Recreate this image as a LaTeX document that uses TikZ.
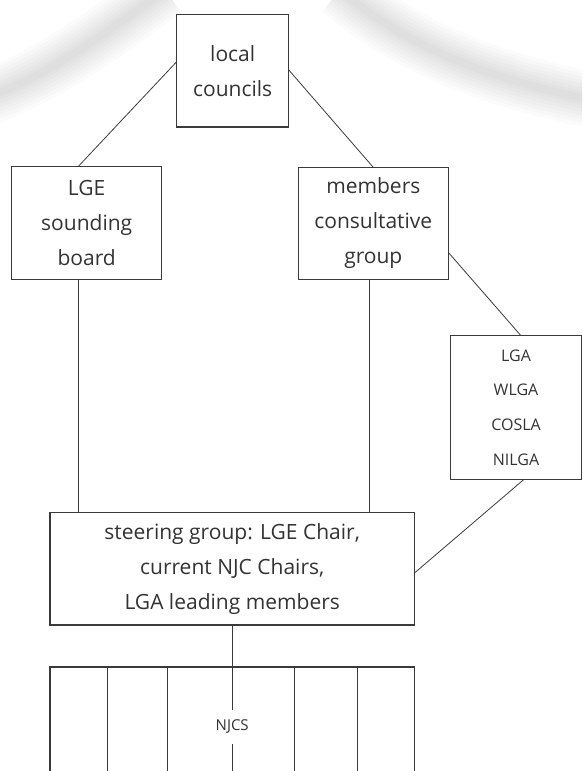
\documentclass[tikz,border=0pt]{standalone}
\usepackage{fontspec}
\setmainfont{Open Sans}
\usepackage{tikz}
\usetikzlibrary{positioning}
\definecolor{ink}{HTML}{333333}
\definecolor{rule}{HTML}{3A3A3A}

\begin{document}
\begin{tikzpicture}[x=1pt,y=-1pt,node distance=40pt,
        box/.style={draw=rule,line width=1.2pt,text=ink,align=center,inner sep=0pt,outer sep=0pt,font=\fontsize{21}{35}\selectfont},
        smallbox/.style={box,font=\fontsize{16}{34.7}\selectfont},
        link/.style={draw=rule,line width=0.8pt},
        haze/.style={line width=#1,black,opacity=0.014}]
        \useasboundingbox (0,0) rectangle (582,771);
        \begin{scope}
            \clip (0,0) rectangle (582,771);
            \foreach \w in {56,49,42,35,28,21,14,8}{
                \draw[haze=\w pt] (165,-10) .. controls (110,30) and (50,75) .. (-10,96);
                \draw[haze=\w pt] (340,-10) .. controls (400,40) and (470,75) .. (592,100);
            }
        \end{scope}

        \node[box,minimum width=112pt,minimum height=112.3pt] (local) at (232.7,70.9) {local\\councils};
        \node[box,minimum width=150pt,minimum height=112.6pt] (lge) [below left=39.7pt and 15pt of local] {LGE\\sounding\\board};
        \node[box,minimum width=150pt,minimum height=112pt] (members) [below right=40.3pt and 9.6pt of local] {members\\consultative\\group};
        \node[smallbox,minimum width=130.6pt,minimum height=143.6pt] (lga) [below right=56.4pt and 2.4pt of members] {LGA\\WLGA\\COSLA\\NILGA};
        \node[box,minimum width=364.5pt,minimum height=112.3pt] (steering) at (232.2,568.8) {steering group: LGE Chair,\\current NJC Chairs,\\LGA leading members};
        \node[box,minimum width=364.5pt,minimum height=120pt] (njcs) [below=42pt of steering] {};

        \path[link] ([yshift=9.2pt]local.west) edge ([xshift=-8.7pt]lge.north)
                    ([yshift=1pt]local.east) edge (members.north)
                    ([xshift=-8.7pt]lge.south) edge ([xshift=-8.7pt]lge.south |- steering.north)
                    ([xshift=-4pt]members.south) edge ([xshift=-4pt]members.south |- steering.north)
                    ([yshift=-29pt]members.east) edge ([xshift=5pt]lga.north)
                    ([xshift=8pt]lga.south) edge ([yshift=-4.2pt]steering.east)
                    (steering.south) edge (njcs.south);
        \foreach \dx in {57.2,117,244.9,307.4}
            \draw[link] ([xshift=\dx pt]njcs.north west) -- ([xshift=\dx pt]njcs.south west);
        \node[font=\fontsize{15}{15}\selectfont,text=ink,fill=white,inner xsep=2pt,inner ysep=10pt] (njcslabel) at (njcs) {NJCS};
\end{tikzpicture}
\end{document}
